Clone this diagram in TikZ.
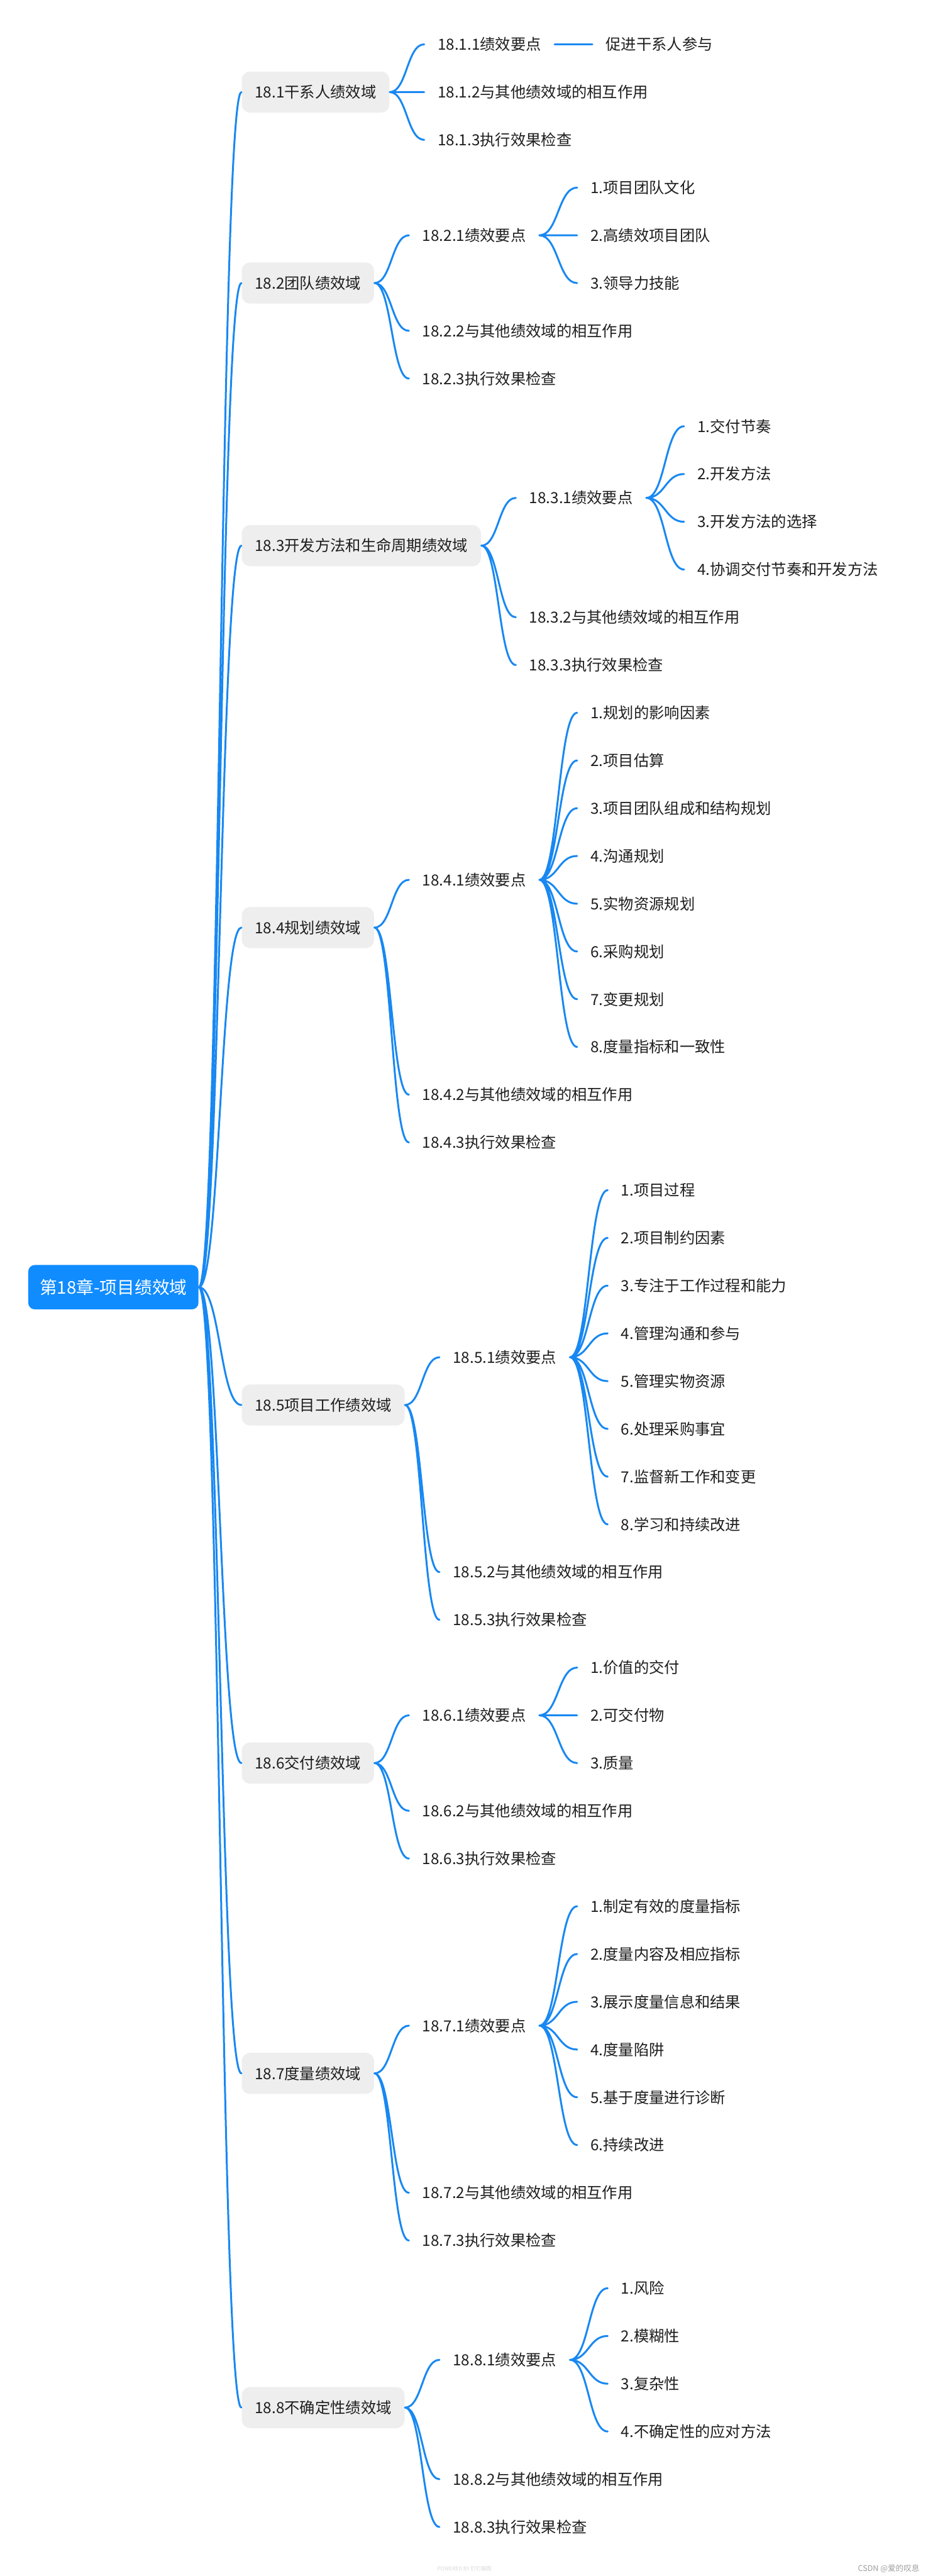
\documentclass[tikz,border=0pt]{standalone}
\usepackage{fontspec}
\setmainfont{Noto Sans CJK SC}
\usepackage{xcolor}
\definecolor{accent}{RGB}{16,140,255}
\definecolor{accent2}{RGB}{24,136,242}
\definecolor{boxgray}{RGB}{238,238,238}
\definecolor{ink}{RGB}{30,30,30}
\usepackage{tikz}
\usetikzlibrary{positioning,calc}
\newcommand{\rowstep}{29.06pt}
\tikzset{
  rootbox/.style={fill=accent,rounded corners=4pt,text=white,%
    font=\fontsize{10.6}{12}\selectfont,inner xsep=7pt,minimum height=27pt},
  dombox/.style={fill=boxgray,rounded corners=5pt,text=ink,%
    font=\fontsize{9.3}{11}\selectfont,inner xsep=8pt,minimum height=25pt},
  sub/.style={text=ink,font=\fontsize{9.3}{11}\selectfont,inner xsep=8pt,inner ysep=2pt},
  leaf/.style={sub},
  wmark/.style={font=\fontsize{4.8}{6}\selectfont,inner sep=0pt},
  twig/.style={draw=accent2,line width=1.15pt,line cap=round,%
    to path={.. controls ($(\tikztostart)!0.5!(\tikztostart -| \tikztotarget)$)
      and ($(\tikztotarget)!0.5!(\tikztotarget -| \tikztostart)$) .. (\tikztotarget)}},
}
\begin{document}
\begin{tikzpicture}[x=1pt,y=1pt,node distance=\rowstep and 23pt]
\fill[white] (0,0) rectangle (565,-1568);
\useasboundingbox (0,0) rectangle (565,-1568);
\node[rootbox,anchor=west] (root) at (17,-783.5) {第18章-项目绩效域};
\node[dombox,anchor=west] (s1) at (147,-56.06) {18.1干系人绩效域};
\node[dombox,anchor=west] (s2) at (147,-172.3) {18.2团队绩效域};
\node[dombox,anchor=west] (s3) at (147,-332.13) {18.3开发方法和生命周期绩效域};
\node[dombox,anchor=west] (s4) at (147,-564.61) {18.4规划绩效域};
\node[dombox,anchor=west] (s5) at (147,-855.21) {18.5项目工作绩效域};
\node[dombox,anchor=west] (s6) at (147,-1073.16) {18.6交付绩效域};
\node[dombox,anchor=west] (s7) at (147,-1262.05) {18.7度量绩效域};
\node[dombox,anchor=west] (s8) at (147,-1465.47) {18.8不确定性绩效域};
\draw[twig] (root.east) to (s1.west) (root.east) to (s2.west)
  (root.east) to (s3.west) (root.east) to (s4.west)
  (root.east) to (s5.west) (root.east) to (s6.west)
  (root.east) to (s7.west) (root.east) to (s8.west);
% 18.1
\node[sub,right=21pt of s1,yshift=\rowstep] (k11) {18.1.1绩效要点};
\node[sub,right=21pt of s1] (k12) {18.1.2与其他绩效域的相互作用};
\node[sub,right=21pt of s1,yshift=-\rowstep] (k13) {18.1.3执行效果检查};
\node[leaf,right=of k11] (p11) {促进干系人参与};
\draw[twig] (s1.east) to (k11.west) (s1.east) to (k12.west) (s1.east) to (k13.west);
\draw[twig] (k11.east) to (p11.west);
% 18.2
\node[sub,right=21pt of s2,yshift=\rowstep] (k21) {18.2.1绩效要点};
\node[sub,right=21pt of s2,yshift=-\rowstep] (k22) {18.2.2与其他绩效域的相互作用};
\node[sub,right=21pt of s2,yshift=-2*\rowstep] (k23) {18.2.3执行效果检查};
\node[leaf,right=of k21,yshift=\rowstep] (p21) {1.项目团队文化};
\node[leaf,below=of p21.west,anchor=west] (p22) {2.高绩效项目团队};
\node[leaf,below=of p22.west,anchor=west] (p23) {3.领导力技能};
\draw[twig] (s2.east) to (k21.west) (s2.east) to (k22.west) (s2.east) to (k23.west);
\draw[twig] (k21.east) to (p21.west) (k21.east) to (p22.west) (k21.east) to (p23.west);
% 18.3
\node[sub,right=21pt of s3,yshift=\rowstep] (k31) {18.3.1绩效要点};
\node[sub,right=21pt of s3,yshift=-1.5*\rowstep] (k32) {18.3.2与其他绩效域的相互作用};
\node[sub,right=21pt of s3,yshift=-2.5*\rowstep] (k33) {18.3.3执行效果检查};
\node[leaf,right=of k31,yshift=1.5*\rowstep] (p31) {1.交付节奏};
\node[leaf,below=of p31.west,anchor=west] (p32) {2.开发方法};
\node[leaf,below=of p32.west,anchor=west] (p33) {3.开发方法的选择};
\node[leaf,below=of p33.west,anchor=west] (p34) {4.协调交付节奏和开发方法};
\draw[twig] (s3.east) to (k31.west) (s3.east) to (k32.west) (s3.east) to (k33.west);
\draw[twig] (k31.east) to (p31.west) (k31.east) to (p32.west)
  (k31.east) to (p33.west) (k31.east) to (p34.west);
% 18.4
\node[sub,right=21pt of s4,yshift=\rowstep] (k41) {18.4.1绩效要点};
\node[sub,right=21pt of s4,yshift=-3.5*\rowstep] (k42) {18.4.2与其他绩效域的相互作用};
\node[sub,right=21pt of s4,yshift=-4.5*\rowstep] (k43) {18.4.3执行效果检查};
\node[leaf,right=of k41,yshift=3.5*\rowstep] (p41) {1.规划的影响因素};
\node[leaf,below=of p41.west,anchor=west] (p42) {2.项目估算};
\node[leaf,below=of p42.west,anchor=west] (p43) {3.项目团队组成和结构规划};
\node[leaf,below=of p43.west,anchor=west] (p44) {4.沟通规划};
\node[leaf,below=of p44.west,anchor=west] (p45) {5.实物资源规划};
\node[leaf,below=of p45.west,anchor=west] (p46) {6.采购规划};
\node[leaf,below=of p46.west,anchor=west] (p47) {7.变更规划};
\node[leaf,below=of p47.west,anchor=west] (p48) {8.度量指标和一致性};
\draw[twig] (s4.east) to (k41.west) (s4.east) to (k42.west) (s4.east) to (k43.west);
\draw[twig] (k41.east) to (p41.west) (k41.east) to (p42.west)
  (k41.east) to (p43.west) (k41.east) to (p44.west)
  (k41.east) to (p45.west) (k41.east) to (p46.west)
  (k41.east) to (p47.west) (k41.east) to (p48.west);
% 18.5
\node[sub,right=21pt of s5,yshift=\rowstep] (k51) {18.5.1绩效要点};
\node[sub,right=21pt of s5,yshift=-3.5*\rowstep] (k52) {18.5.2与其他绩效域的相互作用};
\node[sub,right=21pt of s5,yshift=-4.5*\rowstep] (k53) {18.5.3执行效果检查};
\node[leaf,right=of k51,yshift=3.5*\rowstep] (p51) {1.项目过程};
\node[leaf,below=of p51.west,anchor=west] (p52) {2.项目制约因素};
\node[leaf,below=of p52.west,anchor=west] (p53) {3.专注于工作过程和能力};
\node[leaf,below=of p53.west,anchor=west] (p54) {4.管理沟通和参与};
\node[leaf,below=of p54.west,anchor=west] (p55) {5.管理实物资源};
\node[leaf,below=of p55.west,anchor=west] (p56) {6.处理采购事宜};
\node[leaf,below=of p56.west,anchor=west] (p57) {7.监督新工作和变更};
\node[leaf,below=of p57.west,anchor=west] (p58) {8.学习和持续改进};
\draw[twig] (s5.east) to (k51.west) (s5.east) to (k52.west) (s5.east) to (k53.west);
\draw[twig] (k51.east) to (p51.west) (k51.east) to (p52.west)
  (k51.east) to (p53.west) (k51.east) to (p54.west)
  (k51.east) to (p55.west) (k51.east) to (p56.west)
  (k51.east) to (p57.west) (k51.east) to (p58.west);
% 18.6
\node[sub,right=21pt of s6,yshift=\rowstep] (k61) {18.6.1绩效要点};
\node[sub,right=21pt of s6,yshift=-\rowstep] (k62) {18.6.2与其他绩效域的相互作用};
\node[sub,right=21pt of s6,yshift=-2*\rowstep] (k63) {18.6.3执行效果检查};
\node[leaf,right=of k61,yshift=\rowstep] (p61) {1.价值的交付};
\node[leaf,below=of p61.west,anchor=west] (p62) {2.可交付物};
\node[leaf,below=of p62.west,anchor=west] (p63) {3.质量};
\draw[twig] (s6.east) to (k61.west) (s6.east) to (k62.west) (s6.east) to (k63.west);
\draw[twig] (k61.east) to (p61.west) (k61.east) to (p62.west) (k61.east) to (p63.west);
% 18.7
\node[sub,right=21pt of s7,yshift=\rowstep] (k71) {18.7.1绩效要点};
\node[sub,right=21pt of s7,yshift=-2.5*\rowstep] (k72) {18.7.2与其他绩效域的相互作用};
\node[sub,right=21pt of s7,yshift=-3.5*\rowstep] (k73) {18.7.3执行效果检查};
\node[leaf,right=of k71,yshift=2.5*\rowstep] (p71) {1.制定有效的度量指标};
\node[leaf,below=of p71.west,anchor=west] (p72) {2.度量内容及相应指标};
\node[leaf,below=of p72.west,anchor=west] (p73) {3.展示度量信息和结果};
\node[leaf,below=of p73.west,anchor=west] (p74) {4.度量陷阱};
\node[leaf,below=of p74.west,anchor=west] (p75) {5.基于度量进行诊断};
\node[leaf,below=of p75.west,anchor=west] (p76) {6.持续改进};
\draw[twig] (s7.east) to (k71.west) (s7.east) to (k72.west) (s7.east) to (k73.west);
\draw[twig] (k71.east) to (p71.west) (k71.east) to (p72.west)
  (k71.east) to (p73.west) (k71.east) to (p74.west)
  (k71.east) to (p75.west) (k71.east) to (p76.west);
% 18.8
\node[sub,right=21pt of s8,yshift=\rowstep] (k81) {18.8.1绩效要点};
\node[sub,right=21pt of s8,yshift=-1.5*\rowstep] (k82) {18.8.2与其他绩效域的相互作用};
\node[sub,right=21pt of s8,yshift=-2.5*\rowstep] (k83) {18.8.3执行效果检查};
\node[leaf,right=of k81,yshift=1.5*\rowstep] (p81) {1.风险};
\node[leaf,below=of p81.west,anchor=west] (p82) {2.模糊性};
\node[leaf,below=of p82.west,anchor=west] (p83) {3.复杂性};
\node[leaf,below=of p83.west,anchor=west] (p84) {4.不确定性的应对方法};
\draw[twig] (s8.east) to (k81.west) (s8.east) to (k82.west) (s8.east) to (k83.west);
\draw[twig] (k81.east) to (p81.west) (k81.east) to (p82.west)
  (k81.east) to (p83.west) (k81.east) to (p84.west);
\node[wmark,text=gray!30,font=\fontsize{3.2}{4}\selectfont,anchor=west] (pby) at (266,-1563.5) {POWERED BY 钉钉脑图};
\node[wmark,text=gray!75,anchor=east] (csdn) at (560,-1563.5) {CSDN @爱的叹息};
\end{tikzpicture}
\end{document}
